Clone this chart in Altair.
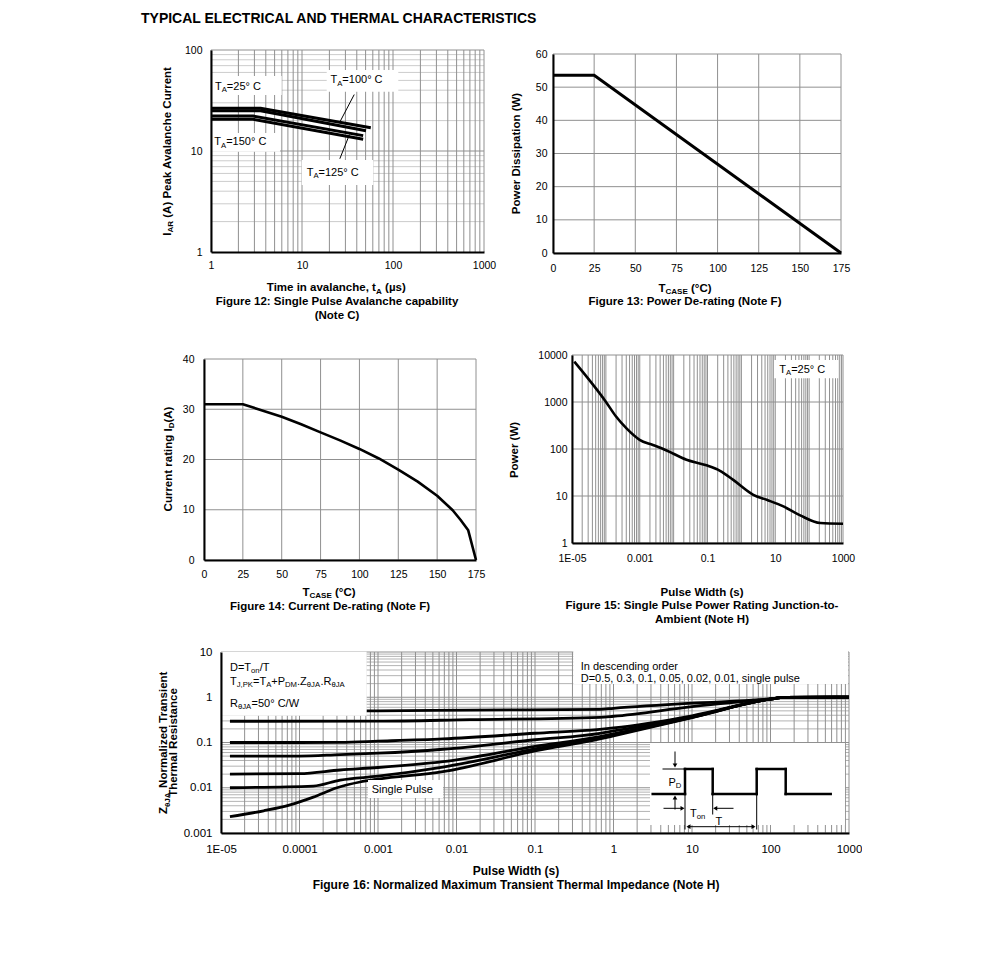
import json
import re
import altair as alt
import pandas as pd

FONT = "Liberation Sans, Arial, sans-serif"

# ---------------- data ----------------
# Figure 12: single pulse avalanche capability
f12_series = ["25", "100", "125", "150"]
f12_t = [[1, 3.5, 57], [1, 3.5, 50.5], [1, 2.9, 47], [1, 2.9, 47]]
f12_i = [[26.5, 26.5, 17.0], [25.0, 25.0, 15.9], [22.2, 22.2, 14.2], [20.6, 20.6, 13.1]]
f12_xticks = [1, 10, 100, 1000]
f12_xlabels = ["1", "10", "100", "1000"]
f12_yticks = [1, 10, 100]
f12_ylabels = ["1", "10", "100"]

# Figure 13: power de-rating
f13_t = [0, 25, 175]
f13_p = [53.6, 53.6, 0]
f13_xticks = [0, 25, 50, 75, 100, 125, 150, 175]
f13_yticks = [0, 10, 20, 30, 40, 50, 60]

# Figure 14: current de-rating
f14_t = [0, 25, 50, 62.5, 75, 87.5, 100, 112.5, 125, 137.5, 150, 160, 165, 170, 175]
f14_i = [31, 31, 28.5, 27.0, 25.4, 23.8, 22.1, 20.2, 18.0, 15.6, 12.8, 9.9, 8.0, 5.9, 0]
f14_xticks = [0, 25, 50, 75, 100, 125, 150, 175]
f14_yticks = [0, 10, 20, 30, 40]

# Figure 15: single pulse power rating
f15_t = [1.17e-5, 1.02e-4, 2.0e-4, 4.0e-4, 9.9e-4, 2.45e-3, 6.2e-3, 2.4e-2, 9.3e-2,
         0.234, 0.575, 2.25, 5.6, 17.4, 54.5, 214, 1000]
f15_p = [7210, 990, 490, 277, 157, 122, 93, 59, 45, 34.4, 22, 10.6, 8.3, 6.0, 3.87, 2.66, 2.57]
f15_xticks = [1e-05, 0.001, 0.1, 10, 1000]
f15_xlabels = ["1E-05", "0.001", "0.1", "10", "1000"]
f15_yticks = [1, 10, 100, 1000, 10000]
f15_ylabels = ["1", "10", "100", "1000", "10000"]

# Figure 16: normalized transient thermal impedance
f16_series = ["D=0.5", "D=0.3", "D=0.1", "D=0.05", "D=0.02", "D=0.01", "Single"]
f16_t = [
    [1.3e-5, 1e-3, 0.015, 0.67, 1, 10, 100, 150, 1000],
    [1.3e-5, 1e-3, 0.015, 0.67, 1, 10, 100, 150, 1000],
    [1.3e-5, 1e-4, 3.3e-4, 1e-3, 6.7e-3, 0.1, 0.67, 1, 10, 100, 150, 1000],
    [1.3e-5, 1e-4, 3.3e-4, 1e-3, 6.7e-3, 0.1, 0.67, 1, 10, 100, 150, 1000],
    [1.3e-5, 1e-4, 3.3e-4, 1e-3, 6.7e-3, 0.1, 0.67, 1, 10, 100, 150, 1000],
    [1.3e-5, 1.5e-4, 3.3e-4, 1e-3, 6.7e-3, 0.1, 0.67, 1, 10, 100, 150, 1000],
    [1.3e-5, 3.5e-5, 7.6e-5, 1.5e-4, 3e-4, 5.9e-4, 1e-3, 6.7e-3, 0.1, 0.67, 1, 10, 100, 150, 1000],
]
f16_z = [
    [0.5, 0.5, 0.52, 0.54, 0.57, 0.74, 0.92, 0.99, 1.0],
    [0.295, 0.296, 0.32, 0.36, 0.38, 0.62, 0.92, 0.99, 1.0],
    [0.1, 0.1, 0.101, 0.107, 0.12, 0.16, 0.196, 0.21, 0.39, 0.91, 0.99, 1.0],
    [0.05, 0.05, 0.054, 0.058, 0.071, 0.115, 0.16, 0.18, 0.375, 0.91, 0.99, 1.0],
    [0.02, 0.0205, 0.0247, 0.028, 0.0377, 0.082, 0.135, 0.155, 0.365, 0.91, 0.99, 1.0],
    [0.01, 0.0109, 0.0148, 0.018, 0.0286, 0.072, 0.13, 0.15, 0.36, 0.91, 0.99, 1.0],
    [0.0023, 0.0031, 0.0042, 0.0062, 0.0100, 0.0134, 0.0155, 0.0226, 0.065, 0.12, 0.14, 0.355, 0.91, 0.99, 1.0],
]
f16_xticks = [1e-05, 1e-04, 0.001, 0.01, 0.1, 1, 10, 100, 1000]
f16_xlabels = ["1E-05", "0.0001", "0.001", "0.01", "0.1", "1", "10", "100", "1000"]
f16_yticks = [0.001, 0.01, 0.1, 1, 10]
f16_ylabels = ["0.001", "0.01", "0.1", "1", "10"]

# ---------------- helpers ----------------
ONE = pd.DataFrame({"k": [0]})


def _tab(pairs):
    d = {}
    for chars, w in pairs:
        for c in chars:
            d[c] = w
    return d


REG = _tab([("0123456789$#_", 556), (".,/!; ", 278), (":", 278), ("()-", 333), ("+=<>", 584),
            ("ABEKPSVXY", 667), ("CDHNRUw", 722), ("FTZ", 611), ("GOQ", 778), ("I", 278),
            ("J", 500), ("L", 556), ("M", 833), ("W", 944), ("abdeghnopqu", 556), ("µ", 556),
            ("θ", 600), ("ckvxyzs", 500), ("jil", 222), ("ft", 278), ("r", 333), ("m", 833),
            ("°", 400)])
BOLD = _tab([("0123456789", 556), (".,/ ", 278), (":", 333), ("()-", 333), ("+=", 584),
             ("ABCDHKNRUX", 722), ("EPSVY", 667), ("FTZL", 611), ("GOQ", 778), ("I", 278),
             ("J", 556), ("M", 833), ("W", 944), ("bdghnopqu", 611), ("µ", 611), ("θ", 700),
             ("acekvxys", 556), ("z", 500), ("il", 278), ("ft", 333), ("r", 389), ("m", 889),
             ("w", 778), ("°", 400)])


def parse(s):
    out = []
    for part in re.split(r"(_\{[^}]*\})", s):
        if not part:
            continue
        if part.startswith("_{"):
            out.append((part[2:-1], True))
        else:
            out.append((part, False))
    return out


def tw(s, size, bold):
    tab = BOLD if bold else REG
    return sum(tab.get(c, 556) for c in s) / 1000.0 * size


def text(s, x, y, org, size=11.0, bold=False, angle=0, anchor="start"):
    ox, oy = org
    pieces = parse(s)
    weight = "bold" if bold else "normal"
    if len(pieces) == 1:
        al = {"start": "left", "middle": "center", "end": "right"}[anchor]
        return [alt.Chart(ONE).mark_text(text=s, font=FONT, fontSize=size, fontWeight=weight,
                                         align=al, baseline="alphabetic", angle=angle,
                                         color="black")
                .encode(x=alt.value(round(x - ox, 2)), y=alt.value(round(y - oy, 2)))]
    sub = size * 0.7
    sizes = [sub if sb else size for _, sb in pieces]
    total = sum(tw(p, fs, bold) for (p, _), fs in zip(pieces, sizes))
    pos = {"start": 0.0, "middle": -total / 2.0, "end": -total}[anchor]
    layers = []
    for (p, sb), fs in zip(pieces, sizes):
        core = p.strip(" ")
        lead = len(p) - len(p.lstrip(" "))
        trail = len(p) - len(p.rstrip(" "))
        pos += tw(" " * lead, fs, bold)
        shift = size * 0.22 if sb else 0.0
        if angle == 0:
            px, py = x + pos, y + shift
        else:
            px, py = x + shift, y - pos
        if core:
            layers.append(alt.Chart(ONE).mark_text(text=core, font=FONT, fontSize=fs,
                                                   fontWeight=weight, align="left",
                                                   baseline="alphabetic", angle=angle,
                                                   color="black")
                          .encode(x=alt.value(round(px - ox, 2)), y=alt.value(round(py - oy, 2))))
        pos += tw(core, fs, bold) + tw(" " * trail, fs, bold)
    return layers


def box(x1, y1, x2, y2, org):
    ox, oy = org
    return alt.Chart(ONE).mark_rect(color="white").encode(
        x=alt.value(x1 - ox), x2=alt.value(x2 - ox), y=alt.value(y1 - oy), y2=alt.value(y2 - oy))


def seg(x1, y1, x2, y2, org, w=1.0):
    ox, oy = org
    return alt.Chart(ONE).mark_rule(color="black", strokeWidth=w, strokeCap="square").encode(
        x=alt.value(x1 - ox), x2=alt.value(x2 - ox), y=alt.value(y1 - oy), y2=alt.value(y2 - oy))


def head(x, y, shape, org):
    ox, oy = org
    return alt.Chart(ONE).mark_point(shape=shape, filled=True, color="black", opacity=1,
                                     size=22).encode(x=alt.value(x - ox), y=alt.value(y - oy))


def lab(vals, labels):
    return "%s[indexof(%s, datum.value)]" % (json.dumps(labels), json.dumps(vals))


def axis(vals, pad, labels=None, size=10.5):
    kw = dict(values=vals, grid=False, ticks=False, tickSize=0, domainColor="black",
              domainWidth=2, labelFont=FONT, labelFontSize=size, labelColor="black",
              labelPadding=pad, labelFlush=False, labelOverlap=False, title=None, zindex=1)
    if labels is not None:
        kw["labelExpr"] = lab(vals, labels)
    return alt.Axis(**kw)


def logvals(lo, hi, ks=range(1, 10)):
    return [k * 10.0 ** e for e in range(lo, hi) for k in ks] + [10.0 ** hi]


def vgrid(vals, xs, ax, color, top=None, bottom=None):
    enc = dict(x=alt.X("v:Q", scale=xs, axis=ax))
    if top is not None:
        enc["y"] = alt.value(top)
        enc["y2"] = alt.value(bottom)
    return alt.Chart(pd.DataFrame({"v": vals})).mark_rule(color=color, strokeWidth=1).encode(**enc)


def hgrid(vals, ys, ay, color):
    return alt.Chart(pd.DataFrame({"v": vals})).mark_rule(color=color, strokeWidth=1).encode(
        y=alt.Y("v:Q", scale=ys, axis=ay))


def long_df(series, ts, vs):
    return pd.DataFrame([{"s": s, "t": t, "v": v}
                         for s, tt, vv in zip(series, ts, vs) for t, v in zip(tt, vv)])


def spacer(w, top=0, bottom=1):
    return alt.Chart(ONE).mark_rect(opacity=0).encode(
        x=alt.value(0), x2=alt.value(w), y=alt.value(-top), y2=alt.value(bottom)
    ).properties(width=w, height=1)


GRID = "#909090"
LIGHT = "#cccccc"

# ---------------- Figure 12 ----------------
O12 = (211, 50)
xs12 = alt.Scale(type="log", domain=[1, 1000], nice=False)
ys12 = alt.Scale(type="log", domain=[1, 100], nice=False)
ax12 = axis(f12_xticks, 8, f12_xlabels)
ay12 = axis(f12_yticks, 9, f12_ylabels)
curves12 = alt.Chart(long_df(f12_series, f12_t, f12_i)).mark_line(
    color="black", strokeWidth=3, strokeJoin="round").encode(
    x=alt.X("t:Q", scale=xs12, axis=ax12), y=alt.Y("v:Q", scale=ys12, axis=ay12), detail="s:N")
fig12 = alt.layer(
    hgrid([v for v in logvals(0, 2) if v not in (1.0, 10.0, 100.0)], ys12, ay12, LIGHT),
    hgrid([10, 100], ys12, ay12, GRID),
    vgrid(logvals(0, 3), xs12, ax12, GRID),
    curves12,
    box(211, 76, 281.7, 95, O12), box(326.7, 70, 398.3, 91.7, O12),
    box(211, 133, 280, 151.7, O12), box(301.7, 160, 373.3, 185, O12),
    seg(354, 95, 340, 121.7, O12), seg(340, 158.3, 349.3, 135, O12),
    *text("T_{A}=25° C", 215, 89.5, O12),
    *text("T_{A}=100° C", 330.5, 83.3, O12),
    *text("T_{A}=150° C", 214.3, 145.3, O12),
    *text("T_{A}=125° C", 306.7, 176, O12),
    *text("I_{AR} (A) Peak Avalanche Current", 170.5, 151, O12, 11.5, True, 270, "middle"),
    *text("Time in avalanche, t_{A} (µs)", 336.5, 291, O12, 11.5, True, 0, "middle"),
    *text("Figure 12: Single Pulse Avalanche capability", 337, 305, O12, 11.5, True, 0, "middle"),
    *text("(Note C)", 337, 318.5, O12, 11.5, True, 0, "middle"),
).properties(width=273, height=202)

# ---------------- Figure 13 (plot area starts 4px below the row top) ----------------
O13 = (553, 50)
xs13 = alt.Scale(domain=[0, 175], nice=False, zero=False)
ys13 = alt.Scale(domain=[0, 60], nice=False, range=[203, 4])
ax13 = axis(f13_xticks, 10)
ay13 = axis(f13_yticks, 6)
line13 = alt.Chart(pd.DataFrame({"t": f13_t, "v": f13_p})).mark_line(
    color="black", strokeWidth=3).encode(
    x=alt.X("t:Q", scale=xs13, axis=ax13), y=alt.Y("v:Q", scale=ys13, axis=ay13))
fig13 = alt.layer(
    vgrid(f13_xticks, xs13, ax13, GRID, 4, 203), hgrid(f13_yticks, ys13, ay13, GRID), line13,
    *text("Power Dissipation (W)", 520, 153.5, O13, 11.5, True, 270, "middle"),
    *text("T_{CASE} (°C)", 685, 291.7, O13, 11.5, True, 0, "middle"),
    *text("Figure 13: Power De-rating (Note F)", 685, 305, O13, 11.5, True, 0, "middle"),
).properties(width=288, height=203)

# ---------------- Figure 14 (plot area starts 4px below the row top) ----------------
O14 = (204, 355)
xs14 = alt.Scale(domain=[0, 175], nice=False, zero=False)
ys14 = alt.Scale(domain=[0, 40], nice=False, range=[205, 4])
ax14 = axis(f14_xticks, 9)
ay14 = axis(f14_yticks, 10)
line14 = alt.Chart(pd.DataFrame({"t": f14_t, "v": f14_i})).mark_line(
    color="black", strokeWidth=2.6, strokeJoin="round").encode(
    x=alt.X("t:Q", scale=xs14, axis=ax14), y=alt.Y("v:Q", scale=ys14, axis=ay14))
fig14 = alt.layer(
    vgrid(f14_xticks, xs14, ax14, GRID, 4, 205), hgrid(f14_yticks, ys14, ay14, GRID), line14,
    *text("Current rating I_{D}(A)", 171.5, 459, O14, 11.5, True, 270, "middle"),
    *text("T_{CASE} (°C)", 329, 595.5, O14, 11.5, True, 0, "middle"),
    *text("Figure 14: Current De-rating (Note F)", 330, 610, O14, 11.5, True, 0, "middle"),
).properties(width=272, height=205)

# ---------------- Figure 15 ----------------
O15 = (572, 355)
xs15 = alt.Scale(type="log", domain=[1e-05, 1000], nice=False)
ys15 = alt.Scale(type="log", domain=[1, 10000], nice=False)
ax15 = axis(f15_xticks, 10, f15_xlabels)
ay15 = axis(f15_yticks, 5, f15_ylabels)
line15 = alt.Chart(pd.DataFrame({"t": f15_t, "v": f15_p})).mark_line(
    color="black", strokeWidth=2.6, interpolate="monotone").encode(
    x=alt.X("t:Q", scale=xs15, axis=ax15), y=alt.Y("v:Q", scale=ys15, axis=ay15))
fig15 = alt.layer(
    vgrid(logvals(-5, 3), xs15, ax15, GRID), hgrid(f15_yticks, ys15, ay15, GRID), line15,
    box(774, 360, 838.3, 378.3, O15),
    *text("T_{A}=25° C", 779.3, 373, O15),
    *text("Power (W)", 518, 450, O15, 11.5, True, 270, "middle"),
    *text("Pulse Width (s)", 702, 596, O15, 11.5, True, 0, "middle"),
    *text("Figure 15: Single Pulse Power Rating Junction-to-", 702, 609, O15, 11.5, True, 0, "middle"),
    *text("Ambient (Note H)", 702, 623, O15, 11.5, True, 0, "middle"),
).properties(width=271, height=188)

# ---------------- Figure 16 ----------------
O16 = (221, 652)
xs16 = alt.Scale(type="log", domain=[1e-05, 1000], nice=False)
ys16 = alt.Scale(type="log", domain=[0.001, 10], nice=False)
ax16 = axis(f16_xticks, 10, f16_xlabels, size=11.5)
ay16 = axis(f16_yticks, 9, f16_ylabels, size=11.5)
curves16 = alt.Chart(long_df(f16_series, f16_t, f16_z)).mark_line(
    color="black", strokeWidth=2.8, interpolate="monotone").encode(
    x=alt.X("t:Q", scale=xs16, axis=ax16), y=alt.Y("v:Q", scale=ys16, axis=ay16), detail="s:N")
minor16 = [v for v in logvals(-3, 1, range(2, 10)) if v not in f16_yticks]
fig16 = alt.layer(
    hgrid(minor16, ys16, ay16, "#b3b3b3"), hgrid(f16_yticks, ys16, ay16, GRID),
    vgrid(logvals(-5, 3), xs16, ax16, GRID),
    curves16,
    box(221, 651.7, 366.7, 715.7, O16), box(573.3, 651, 848, 684, O16),
    box(368, 780, 443, 798, O16), box(650, 743, 845, 825, O16),
    *text("D=T_{on}/T", 230, 671, O16),
    *text("T_{J,PK}=T_{A}+P_{DM}.Z_{θJA}.R_{θJA}", 230, 684.5, O16),
    *text("R_{θJA}=50° C/W", 230, 707, O16),
    *text("In descending order", 580.7, 669.7, O16),
    *text("D=0.5, 0.3, 0.1, 0.05, 0.02, 0.01, single pulse", 580.7, 681.7, O16),
    *text("Single Pulse", 371.7, 793, O16),
    # pulse waveform schematic
    seg(652.7, 794, 685, 794, O16, 2.5), seg(685, 794, 685, 769, O16, 2.5),
    seg(685, 769, 712.7, 769, O16, 2.5), seg(712.7, 769, 712.7, 794, O16, 2.5),
    seg(712.7, 794, 756.7, 794, O16, 2.5), seg(756.7, 794, 756.7, 769, O16, 2.5),
    seg(756.7, 769, 785.7, 769, O16, 2.5), seg(785.7, 769, 785.7, 794, O16, 2.5),
    seg(785.7, 794, 830.7, 794, O16, 2.5),
    seg(685, 794, 685, 829, O16), seg(712.7, 794, 712.7, 814, O16),
    seg(756.7, 794, 756.7, 829, O16), seg(663, 769, 685, 769, O16),
    seg(675, 752, 675, 764, O16), head(675, 765.5, "triangle-down", O16),
    seg(675, 809, 675, 799, O16), head(675, 797.5, "triangle-up", O16),
    seg(664, 808.3, 681, 808.3, O16), head(682.5, 808.3, "triangle-right", O16),
    seg(733, 808.3, 717, 808.3, O16), head(715.2, 808.3, "triangle-left", O16),
    seg(689, 826.7, 753, 826.7, O16), head(688.5, 826.7, "triangle-left", O16),
    head(753.5, 826.7, "triangle-right", O16),
    *text("P_{D}", 668.5, 785.7, O16),
    *text("T_{on}", 690, 816.5, O16),
    *text("T", 715.5, 825, O16),
    *text("Z_{θJA} Normalized Transient", 167, 742.5, O16, 11.5, True, 270, "middle"),
    *text("Thermal Resistance", 176.5, 742.5, O16, 11.5, True, 270, "middle"),
    *text("Pulse Width (s)", 516, 874.5, O16, 12, True, 0, "middle"),
    *text("Figure 16: Normalized Maximum Transient Thermal Impedance (Note H)", 516, 888.5, O16,
          12, True, 0, "middle"),
).properties(width=628, height=181)

# ---------------- layout ----------------
O = (8, 8)
row0 = alt.layer(
    alt.Chart(ONE).mark_rect(opacity=0).encode(
        x=alt.value(0), x2=alt.value(10), y=alt.value(0), y2=alt.value(30)),
    *text("TYPICAL ELECTRICAL AND THERMAL CHARACTERISTICS", 141, 23, O, 14, True),
).properties(width=10, height=1)

# row tops (page): 50, 355, 652
row1 = alt.concat(spacer(203, 12, 290), fig12, spacer(69), fig13,
                  spacing=0, bounds="flush", align="each")
row2 = alt.concat(spacer(196, 15, 287), fig14, spacer(96), fig15,
                  spacing=0, bounds="flush", align="each")
row3 = alt.concat(spacer(213, 10, 250), fig16,
                  spacing=0, bounds="flush", align="each")

chart = alt.concat(row0, row1, row2, row3, columns=1, spacing=0, bounds="full",
                   align="each").properties(padding=0).configure(font=FONT).configure_view(
    stroke=None, strokeWidth=0)

chart.save("out.html", embed_options={"renderer": "svg", "actions": False})
